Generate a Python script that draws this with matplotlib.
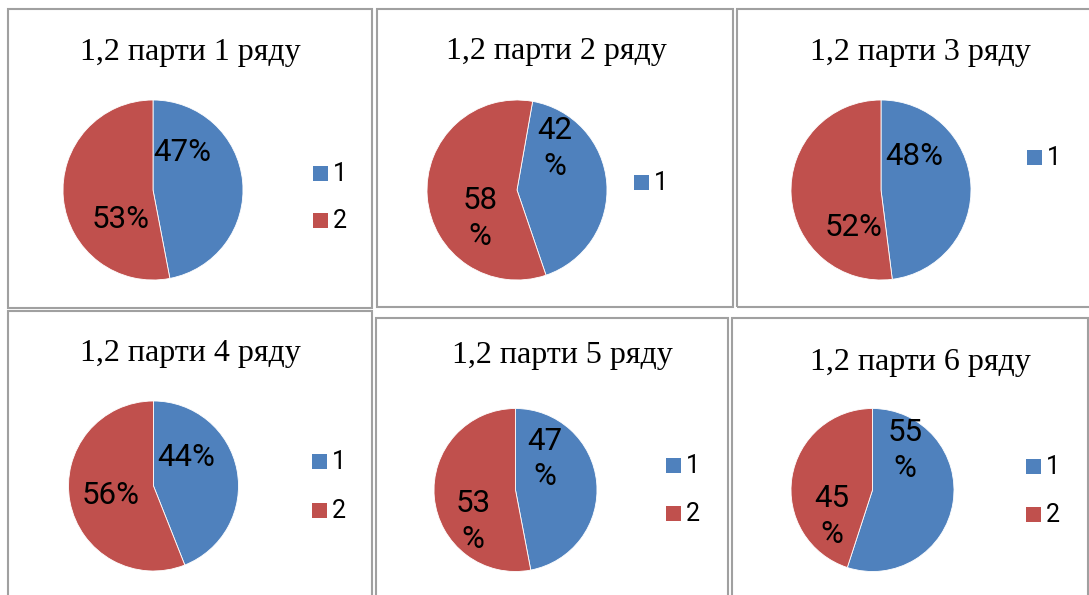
import matplotlib
matplotlib.use("Agg")
import matplotlib.pyplot as plt
from matplotlib.patches import Rectangle

# ---- data ----
titles = ["1,2 парти 1 ряду", "1,2 парти 2 ряду", "1,2 парти 3 ряду",
          "1,2 парти 4 ряду", "1,2 парти 5 ряду", "1,2 парти 6 ряду"]
categories = ["1", "2"]
series_1 = [47, 42, 48, 44, 47, 55]
series_2 = [53, 58, 52, 56, 53, 45]
label_1 = ["47%", "42\n%", "48%", "44%", "47\n%", "55\n%"]
label_2 = ["53%", "58\n%", "52%", "56%", "53\n%", "45\n%"]
legend_entries_shown = [2, 1, 1, 2, 2, 2]

# ---- style / layout (pixels) ----
W, H = 1089, 595
colors = ["#4F81BD", "#C0504D"]
panels = [(8, 9, 372, 308), (377, 9, 733, 307), (737, 9, 1100, 307),
          (8, 311, 372, 610), (376, 318, 728, 610), (732, 318, 1088, 610)]
pie_geom = [(153, 190, 90), (517, 190, 90), (881, 190, 90),
            (153.5, 486, 85), (515.5, 490, 81.5), (872.5, 490, 81.5)]
start_angles = [90, 80, 90, 90, 90, 90]
lab1_pos = [(0.32, 0.42), (0.42, 0.46), (0.37, 0.37), (0.39, 0.34), (0.36, 0.38), (0.40, 0.49)]
lab2_pos = [(-0.36, -0.33), (-0.41, -0.32), (-0.31, -0.42), (-0.50, -0.11), (-0.52, -0.39), (-0.50, -0.32)]
title_pos = [(190, 60), (556, 59), (920, 60), (190, 361), (562, 363), (920, 370)]
legend_pos = [(313, 174), (634, 183), (1027, 158), (312, 462), (666, 466), (1026, 467)]
legend_gap = [47, 47, 47, 49, 48, 48]

label_font = ["Roboto", "DejaVu Sans"]
title_font = ["Liberation Serif", "DejaVu Serif"]

fig = plt.figure(figsize=(W / 100, H / 100), dpi=100)
fig.patch.set_facecolor("white")

def fx(x):
    return x / W

def fy(y):
    return 1 - y / H

for i in range(6):
    x0, y0, x1, y1 = panels[i]
    fig.patches.append(Rectangle((fx(x0), fy(y1)), fx(x1 - x0), (y1 - y0) / H,
                                 transform=fig.transFigure, fill=False,
                                 edgecolor="#a0a0a0", linewidth=1.5))
    cx, cy, r = pie_geom[i]
    ax = fig.add_axes([fx(cx - r), fy(cy + r), 2 * r / W, 2 * r / H])
    vals = [series_1[i], series_2[i]]
    ax.pie(vals, colors=colors, startangle=start_angles[i], counterclock=False,
           wedgeprops=dict(edgecolor="white", linewidth=0.6))
    ax.set_xlim(-1, 1)
    ax.set_ylim(-1, 1)
    ax.set_aspect("auto")
    ax.axis("off")
    ax.text(lab1_pos[i][0], lab1_pos[i][1], label_1[i], ha="center", va="center",
            fontsize=22.5, family=label_font, color="black", linespacing=1.3)
    ax.text(lab2_pos[i][0], lab2_pos[i][1], label_2[i], ha="center", va="center",
            fontsize=22.5, family=label_font, color="black", linespacing=1.3)
    tx, ty = title_pos[i]
    fig.text(fx(tx), fy(ty), titles[i], ha="center", va="baseline",
             fontsize=23, family=title_font, color="black")
    lx, ly = legend_pos[i]
    for k in range(legend_entries_shown[i]):
        yy = ly + k * legend_gap[i]
        fig.patches.append(Rectangle((fx(lx), fy(yy + 7)), 15 / W, 15 / H,
                                     transform=fig.transFigure, facecolor=colors[k],
                                     edgecolor="none"))
        fig.text(fx(lx + 20), fy(yy), categories[k], ha="left", va="center",
                 fontsize=18, family=label_font, color="black")

fig.savefig("out.png", dpi=100, facecolor="white")
